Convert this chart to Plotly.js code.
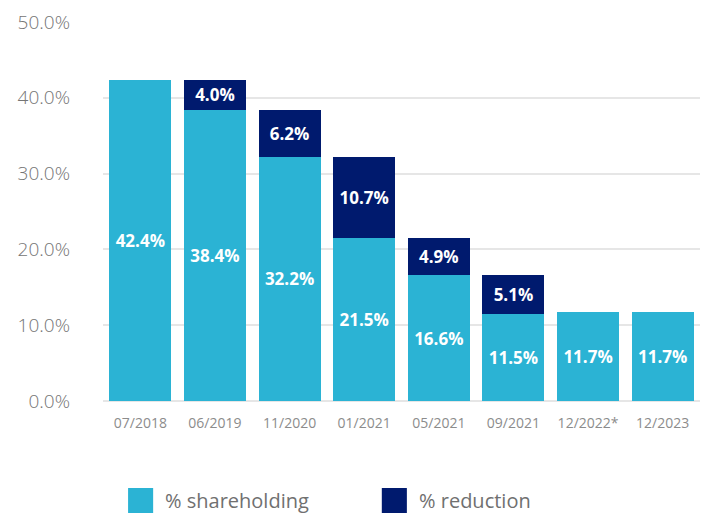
<!DOCTYPE html>
<html>
<head>
<meta charset="utf-8">
<script src="https://cdn.plot.ly/plotly-3.0.1.min.js"></script>
<style>html,body{margin:0;padding:0;background:#fff;}#chart{width:707px;height:513px;}</style>
</head>
<body>
<div id="chart"></div>
<script>
const categories = ["07/2018", "06/2019", "11/2020", "01/2021", "05/2021", "09/2021", "12/2022*", "12/2023"];
const shareholding = [42.4, 38.4, 32.2, 21.5, 16.6, 11.5, 11.7, 11.7];
const reduction = [0, 4.0, 6.2, 10.7, 4.9, 5.1, 0, 0];
const yTicks = [0, 10, 20, 30, 40, 50];
const seriesNames = ["% shareholding", "% reduction"];
const seriesColors = ["#2BB3D4", "#001A6E"];

const labelFont = {family: "Open Sans", size: 17, color: "#ffffff", weight: 700};

const traces = [
  {
    type: "bar", name: seriesNames[0], x: categories, y: shareholding,
    marker: {color: seriesColors[0]},
    text: shareholding.map(v => v.toFixed(1) + "%"),
    textposition: "inside", insidetextanchor: "middle", textangle: 0,
    insidetextfont: labelFont, hoverinfo: "skip"
  },
  {
    type: "bar", name: seriesNames[1], x: categories, y: reduction,
    marker: {color: seriesColors[1]},
    text: reduction.map(v => v > 0 ? v.toFixed(1) + "%" : ""),
    textposition: "inside", insidetextanchor: "middle", textangle: 0,
    insidetextfont: labelFont, hoverinfo: "skip"
  }
];

// custom legend (paper coordinates)
const legX = [0.042, 0.467];
const legendShapes = seriesNames.map((n, i) => ({
  type: "rect", xref: "paper", yref: "paper",
  x0: legX[i], x1: legX[i] + 0.042, y0: -0.2296, y1: -0.2955,
  fillcolor: seriesColors[i], line: {width: 0}
}));
const legendAnn = seriesNames.map((n, i) => ({
  xref: "paper", yref: "paper", x: legX[i] + 0.059, y: -0.262,
  xanchor: "left", yanchor: "middle", text: n, showarrow: false,
  font: {family: "Open Sans", size: 20, color: "#707070"}
}));

const layout = {
  width: 707, height: 513,
  margin: {l: 103, r: 7, t: 22, b: 112},
  barmode: "stack", bargap: 0.17,
  paper_bgcolor: "#fff", plot_bgcolor: "#fff",
  font: {family: "Open Sans", color: "#808080"},
  xaxis: {
    type: "category", tickfont: {size: 14, color: "#8c8c8c"},
    showgrid: false, showline: false, ticks: "", ticklabelstandoff: 12
  },
  yaxis: {
    range: [0, 50], tickvals: yTicks, ticktext: yTicks.map(v => v.toFixed(1) + "%"),
    tickfont: {size: 19, color: "#757575", weight: 300}, gridcolor: "#e6e6e6", gridwidth: 2,
    zeroline: true, zerolinecolor: "#e6e6e6", zerolinewidth: 2,
    showline: false, ticks: "", ticklabelstandoff: 32, fixedrange: true
  },
  showlegend: false,
  shapes: legendShapes,
  annotations: legendAnn
};

Plotly.newPlot("chart", traces, layout, {displayModeBar: false, staticPlot: true});
</script>
</body>
</html>
